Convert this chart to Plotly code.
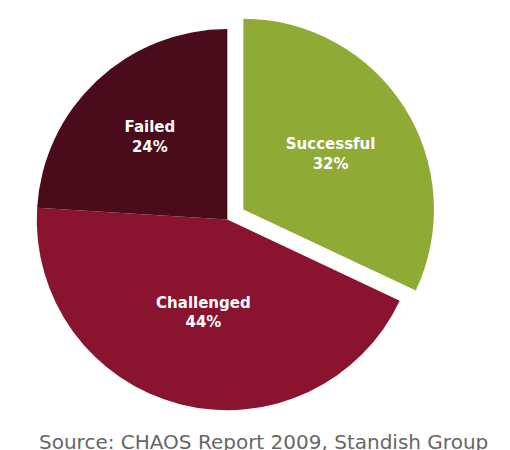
import plotly.graph_objects as go

labels = ["Successful", "Challenged", "Failed"]
values = [32, 44, 24]
colors = ["#8fab35", "#8a1330", "#4a0b1b"]
pulls = [0.1, 0, 0]

fig = go.Figure(go.Pie(
    labels=labels,
    values=values,
    sort=False,
    direction="clockwise",
    rotation=0,
    pull=pulls,
    marker=dict(colors=colors, line=dict(width=0)),
    texttemplate="<b>%{label}</b><br><b>%{percent:.0%}</b>",
    textposition="inside",
    insidetextorientation="horizontal",
    textfont=dict(family="DejaVu Sans", size=15, color="white"),
    showlegend=False,
    domain=dict(x=[0.0, 0.86], y=[0.06, 1.0]),
))

fig.add_annotation(
    text="Source: CHAOS Report 2009, Standish Group",
    x=0.5, y=0.0, xref="paper", yref="paper", xanchor="center", yanchor="bottom",
    showarrow=False, font=dict(family="DejaVu Sans", size=20, color="#666666"),
)

fig.update_layout(
    width=510, height=450,
    margin=dict(l=0, r=0, t=2, b=2),
    paper_bgcolor="white",
)

fig.write_html("out.html")
